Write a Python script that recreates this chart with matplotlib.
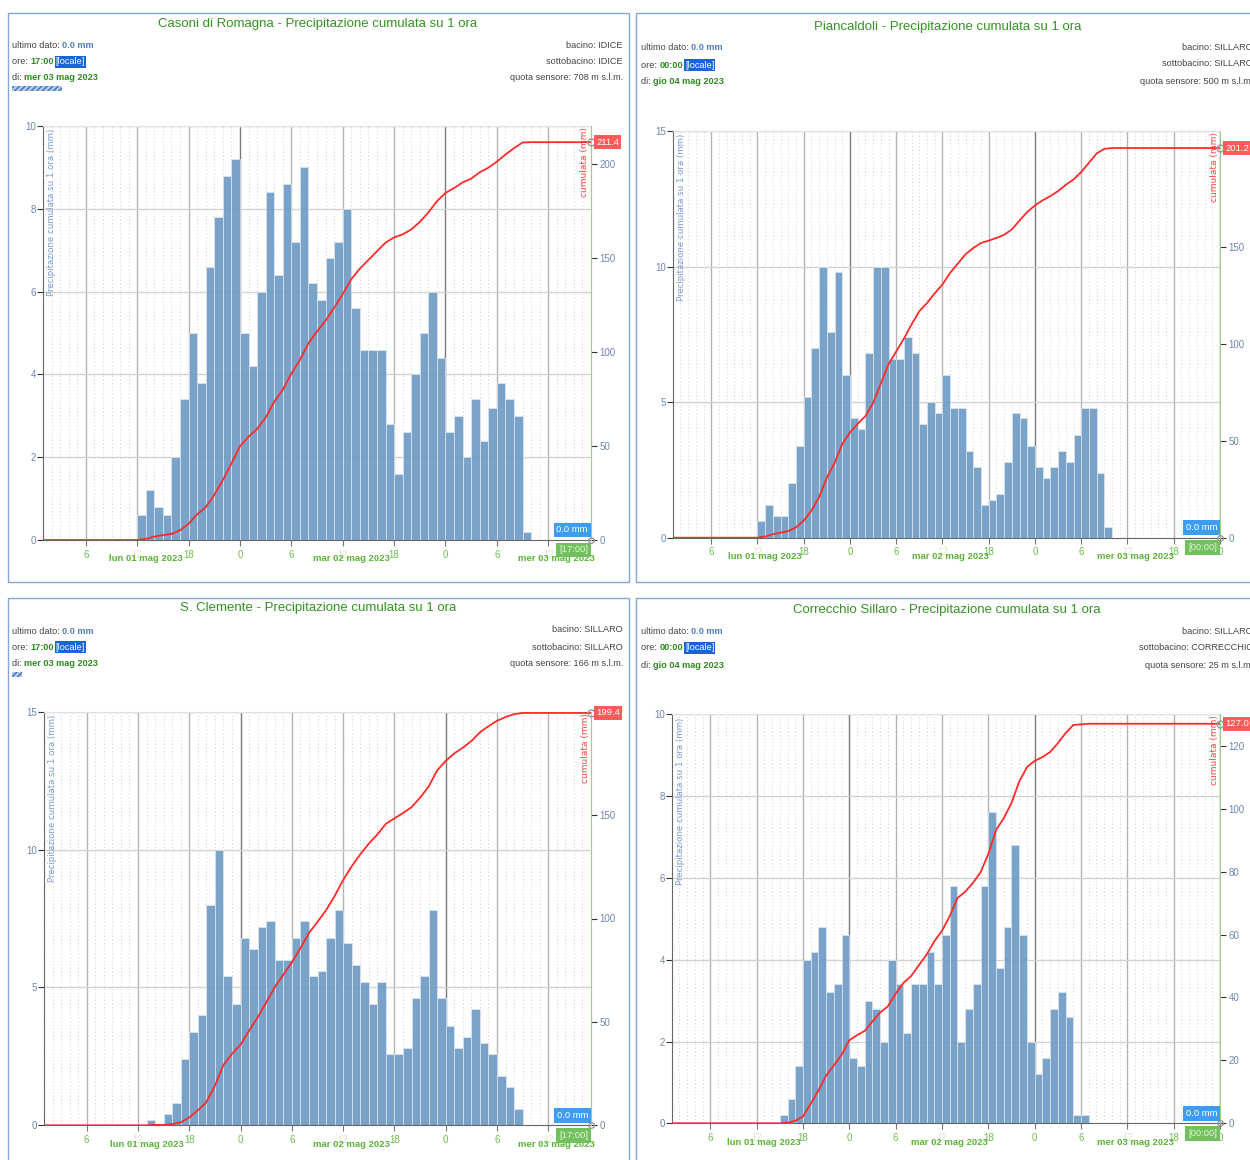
import numpy as np
import matplotlib
matplotlib.use("Agg")
import matplotlib.pyplot as plt
from matplotlib.patches import Rectangle

plt.rcParams['font.family'] = ['Liberation Sans Narrow', 'Liberation Sans', 'DejaVu Sans']

W, H = 1250, 1160

# ---------------- data ----------------
# hourly rain (mm); hours counted from lun 01 mag 2023 00:00, first value = hour starting at *_start
station_names = ["Casoni di Romagna", "Piancaldoli", "S. Clemente", "Correcchio Sillaro"]

casoni_start = 12
casoni_rain = [0.6, 1.2, 0.8, 0.6, 2.0, 3.4, 5.0, 3.8, 6.6, 7.8, 8.8, 9.2,
               5.0, 4.2, 6.0, 8.4, 6.4, 8.6, 7.2, 9.0, 6.2, 5.8, 6.8, 7.2,
               8.0, 5.6, 4.6, 4.6, 4.6, 2.8, 1.6, 2.6, 4.0, 5.0, 6.0, 4.4,
               2.6, 3.0, 2.0, 3.4, 2.4, 3.2, 3.8, 3.4, 3.0, 0.2]

pianc_start = 12
pianc_rain = [0.6, 1.2, 0.8, 0.8, 2.0, 3.4, 5.2, 7.0, 10.0, 7.6, 9.8, 6.0,
              4.4, 4.0, 6.8, 10.0, 10.0, 6.6, 6.6, 7.4, 6.8, 4.2, 5.0, 4.6,
              6.0, 4.8, 4.8, 3.2, 2.6, 1.2, 1.4, 1.6, 2.8, 4.6, 4.4, 3.4,
              2.6, 2.2, 2.6, 3.2, 2.8, 3.8, 4.8, 4.8, 2.4, 0.4]

sclem_start = 13
sclem_rain = [0.2, 0.0, 0.4, 0.8, 2.4, 3.4, 4.0, 8.0, 10.0, 5.4, 4.4,
              6.8, 6.4, 7.2, 7.4, 6.0, 6.0, 6.8, 7.4, 5.4, 5.6, 6.8, 7.8,
              6.6, 5.8, 5.2, 4.4, 5.2, 2.6, 2.6, 2.8, 4.6, 5.4, 7.8, 4.6,
              3.6, 2.8, 3.2, 4.2, 3.0, 2.6, 1.8, 1.4, 0.6]

correc_start = 15
correc_rain = [0.2, 0.6, 1.4, 4.0, 4.2, 4.8, 3.2, 3.4, 4.6,
               1.6, 1.4, 3.0, 2.8, 2.0, 4.0, 3.4, 2.2, 3.4, 3.4, 4.2, 3.4,
               4.6, 5.8, 2.0, 2.8, 3.4, 5.8, 7.6, 3.8, 4.8, 6.8, 4.6, 2.0,
               1.2, 1.6, 2.8, 3.2, 2.6, 0.2, 0.2]

x_start = [1, 1, 1, 1]
x_end = [65, 72, 65, 72]
left_max = [10, 15, 15, 10]
left_ticks = [[0, 2, 4, 6, 8, 10], [0, 5, 10, 15], [0, 5, 10, 15], [0, 2, 4, 6, 8, 10]]
right_max = [220, 210, 200, 130]
right_ticks = [[0, 50, 100, 150, 200], [0, 50, 100, 150], [0, 50, 100, 150], [0, 20, 40, 60, 80, 100, 120]]
day_labels = ["lun 01 mag 2023", "mar 02 mag 2023", "mer 03 mag 2023"]
last_value = ["0.0 mm", "0.0 mm", "0.0 mm", "0.0 mm"]
last_time = ["17:00", "00:00", "17:00", "00:00"]
last_date = ["mer 03 mag 2023", "gio 04 mag 2023", "mer 03 mag 2023", "gio 04 mag 2023"]
bacino = ["IDICE", "SILLARO", "SILLARO", "SILLARO"]
sottobacino = ["IDICE", "SILLARO", "SILLARO", "CORRECCHIO"]
quota = ["708 m s.l.m.", "500 m s.l.m.", "166 m s.l.m.", "25 m s.l.m."]

rains = [casoni_rain, pianc_rain, sclem_rain, correc_rain]
starts = [casoni_start, pianc_start, sclem_start, correc_start]

# ---------------- layout (pixels) ----------------
axes_px = [(43, 126, 591, 540), (672.7, 131, 1220, 537.7),
           (44, 711.7, 591, 1125.3), (671.7, 714.3, 1220, 1123.3)]
border_px = [(8, 13, 629, 582), (636, 13, 1257, 582), (8, 598, 629, 1172), (636, 598, 1257, 1172)]
title_px = [(318, 24), (948, 27), (318, 608), (947, 610)]
left_txt_x = [12, 641, 12, 641]
left_txt_y = [(45, 62, 78), (48, 65, 82), (631, 647, 663), (631, 648, 665)]
right_txt_x = [623, 1253, 623, 1253]
right_txt_y = [(45, 62, 78), (47, 64, 82), (630, 647, 663), (631, 648, 665)]
hatch_px = [(12, 86, 50, 5), None, (12, 672, 10, 5), None]

fig = plt.figure(figsize=(W / 100, H / 100), dpi=100)
fig.patch.set_facecolor('white')
renderer = fig.canvas.get_renderer()

GREY = '#444444'
GREEN_B = '#2e8b1e'
TICKC = '#6f85ad'
HDR = 6.6


def ftext(x, y, s, **kw):
    return fig.text(x / W, 1 - y / H, s, **kw)


def rich(x, y, parts):
    cur = x
    for s, kw in parts:
        extra = kw.pop('gap', 0)
        cur += extra
        t = ftext(cur, y, s, va='center', ha='left', fontsize=HDR, **kw)
        bb = t.get_window_extent(renderer)
        cur = bb.x1 + extra


for i in range(4):
    rain = np.array(rains[i])
    start = starts[i]
    x0, x1 = x_start[i], x_end[i]
    l, t, r, b = axes_px[i]

    # border
    bl, bt, br, bb_ = border_px[i]
    fig.add_artist(Rectangle((bl / W, 1 - bb_ / H), (br - bl) / W, (bb_ - bt) / H,
                             transform=fig.transFigure, fill=False, ec='#86a8d8', lw=1.0))

    # header
    ftext(*title_px[i], f"{station_names[i]} - Precipitazione cumulata su 1 ora",
          ha='center', va='center', fontsize=9.5, color='#339422')
    ly = left_txt_y[i]
    lx = left_txt_x[i]
    rich(lx, ly[0], [("ultimo dato: ", dict(color=GREY)),
                     (last_value[i], dict(color='#4f80c0', fontweight='bold'))])
    rich(lx, ly[1], [("ore: ", dict(color=GREY)),
                     (last_time[i], dict(color=GREEN_B, fontweight='bold')),
                     ("[locale]", dict(color='white', gap=2,
                                       bbox=dict(boxstyle='square,pad=0.12', fc='#1866d4', ec='none')))])
    rich(lx, ly[2], [("di: ", dict(color=GREY)),
                     (last_date[i], dict(color=GREEN_B, fontweight='bold'))])
    ry = right_txt_y[i]
    rx = right_txt_x[i]
    ftext(rx, ry[0], f"bacino: {bacino[i]}", ha='right', va='center', fontsize=HDR, color=GREY)
    ftext(rx, ry[1], f"sottobacino: {sottobacino[i]}", ha='right', va='center', fontsize=HDR, color=GREY)
    ftext(rx, ry[2], f"quota sensore: {quota[i]}", ha='right', va='center', fontsize=HDR, color=GREY)
    if hatch_px[i] is not None:
        hx, hy, hw, hh = hatch_px[i]
        fig.add_artist(Rectangle((hx / W, 1 - (hy + hh) / H), hw / W, hh / H,
                                 transform=fig.transFigure, fc='#b4cbee', ec='#3f6fc0',
                                 hatch='//////', lw=0))

    # axes
    ax = fig.add_axes([l / W, 1 - b / H, (r - l) / W, (b - t) / H])
    ax.set_xlim(x0, x1)
    ax.set_ylim(0, left_max[i])
    for h in range(x0, x1 + 1):
        if h % 24 == 0:
            ax.axvline(h, color='#7a7a7a', lw=1.0, zorder=1)
        elif h % 6 == 0:
            ax.axvline(h, color='#b3b3b3', lw=1.0, zorder=1)
        else:
            ax.axvline(h, color='#d6d6d6', lw=0.8, ls=(0, (1, 2.2)), zorder=1)
    for yv in left_ticks[i][1:]:
        ax.axhline(yv, color='#d2d2d2', lw=1.0, zorder=1)

    hours = start + np.arange(len(rain))
    ax.bar(hours, rain, width=1, align='edge', color='#6b99c4', alpha=0.9,
           edgecolor='#dce6f0', linewidth=0.6, zorder=2)

    xt = [h for h in range(x0, x1 + 1) if h % 6 == 0]
    ax.set_xticks(xt)
    ax.set_xticklabels([str(h % 24) for h in xt])
    for lab, h in zip(ax.get_xticklabels(), xt):
        lab.set_color('#d6ecca' if h % 24 == 12 else '#6cbf4e')
    ax.tick_params(axis='x', length=4, width=0.8, color='#777777', labelsize=7, pad=3)
    ax.set_yticks(left_ticks[i])
    ax.tick_params(axis='y', length=4, width=0.8, color='#333333', labelsize=7,
                   labelcolor=TICKC, pad=1)
    ax.spines['top'].set_color('#e2e2e2')
    ax.spines['right'].set_visible(False)
    ax.spines['left'].set_color('#666666')
    ax.spines['bottom'].set_color('#666666')

    for d, lab in enumerate(day_labels):
        xc = d * 24 + 13
        if xc <= x1:
            ax.annotate(lab, xy=(xc, 0), xycoords=('data', 'axes fraction'), xytext=(0, -19),
                        textcoords='offset pixels', ha='center', va='center', fontsize=6.8,
                        fontweight='bold', color='#5db33a', annotation_clip=False)

    ax.annotate('Precipitazione cumulata su 1 ora (mm)', xy=(0, 1), xycoords='axes fraction',
                xytext=(9, -3), textcoords='offset pixels', rotation=90, ha='center', va='top',
                fontsize=6.2, color='#7b9bd0', family='DejaVu Sans')

    # cumulative
    ax2 = ax.twinx()
    ax2.set_ylim(0, right_max[i])
    ax2.set_yticks(right_ticks[i])
    ax2.tick_params(axis='y', length=4, width=0.8, color='#333333', labelsize=7,
                    labelcolor=TICKC, pad=2)
    for sp in ('left', 'top', 'bottom'):
        ax2.spines[sp].set_visible(False)
    ax2.spines['right'].set_color('#9ad08a')
    cum = np.cumsum(rain)
    lxs = np.concatenate([[x0, start], hours + 1, [x1]])
    lys = np.concatenate([[0, 0], cum, [cum[-1]]])
    ax2.plot(lxs, lys, color='#ff2a2a', lw=1.3, zorder=5)
    ax2.plot([x1], [cum[-1]], marker='o', mfc='none', mec='#999999', ms=5, clip_on=False, zorder=6)
    ax2.plot([x1], [0], marker='o', mfc='none', mec='#999999', ms=4, clip_on=False, zorder=6)
    ax2.annotate(f'{cum[-1]:.1f}', xy=(1, cum[-1]), xycoords=('axes fraction', 'data'),
                 xytext=(5, 0), textcoords='offset pixels', ha='left', va='center', fontsize=6.8,
                 color='white', bbox=dict(boxstyle='square,pad=0.25', fc='#ff5a5a', ec='none'),
                 annotation_clip=False, zorder=7)
    ax2.annotate('cumulata (mm)', xy=(1, 1), xycoords='axes fraction', xytext=(-6, -1),
                 textcoords='offset pixels', rotation=90, ha='center', va='top', fontsize=6.5,
                 color='#ff4444', family='DejaVu Sans')
    ax2.annotate(last_value[i], xy=(1, 0), xycoords='axes fraction', xytext=(-3, 10),
                 textcoords='offset pixels', ha='right', va='center', fontsize=6.8, color='white',
                 bbox=dict(boxstyle='square,pad=0.3', fc='#3d9df5', ec='none'),
                 annotation_clip=False, zorder=7)
    ax2.annotate(f'[{last_time[i]}]', xy=(1, 0), xycoords='axes fraction', xytext=(-3, -10),
                 textcoords='offset pixels', ha='right', va='center', fontsize=6.8, color='#e6f5dc',
                 bbox=dict(boxstyle='square,pad=0.3', fc='#72c05e', ec='none'),
                 annotation_clip=False, zorder=7)

fig.savefig('out.png', dpi=100)
